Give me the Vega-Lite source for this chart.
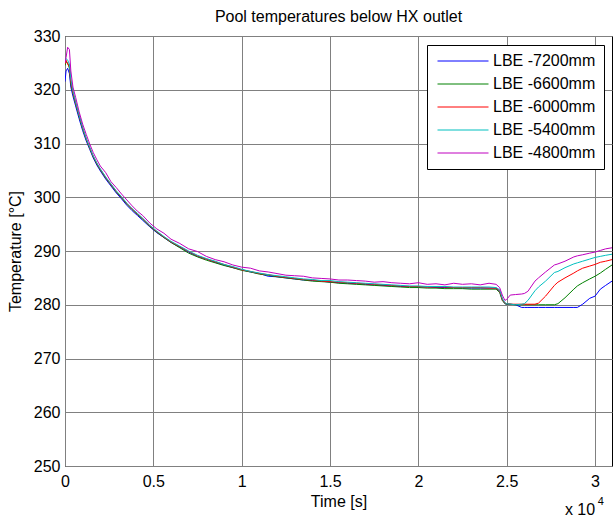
{
  "$schema": "https://vega.github.io/schema/vega-lite/v6.json",
  "width": 547,
  "height": 430,
  "autosize": {"type": "none"},
  "padding": {"left": 65, "top": 36, "right": 3, "bottom": 53},
  "background": "white",
  "title": {"text": "Pool temperatures below HX outlet", "fontSize": 16, "fontWeight": "normal", "font": "Liberation Sans", "color": "black", "offset": 3},
  "config": {
    "view": {"stroke": "black", "strokeWidth": 1},
    "font": "Liberation Sans",
    "axis": {"labelFont": "Liberation Sans", "titleFont": "Liberation Sans", "labelFontSize": 16, "titleFontSize": 16, "titleFontWeight": "normal", "labelColor": "black", "titleColor": "black", "domain": false, "ticks": false, "grid": true, "gridColor": "#808080", "gridOpacity": 1, "gridWidth": 1}
  },
  "layer": [
    {
      "data": {"values": [
        {"t": 0, "s7200": 321.5, "s6600": 324.5, "s6000": 324.8, "s5400": 325.3, "s4800": 325.0},
        {"t": 60, "s7200": 323.5, "s6600": 325.2, "s6000": 325.5, "s5400": 325.8, "s4800": 326.0},
        {"t": 150, "s7200": 324.0, "s6600": 325.0, "s6000": 324.8, "s5400": 325.5, "s4800": 327.9},
        {"t": 250, "s7200": 323.0, "s6600": 324.0, "s6000": 324.3, "s5400": 324.8, "s4800": 327.5},
        {"t": 330, "s7200": 320.5, "s6600": 321.0, "s6000": 321.5, "s5400": 322.0, "s4800": 323.5},
        {"t": 450, "s7200": 318.8, "s6600": 319.3, "s6000": 319.5, "s5400": 319.8, "s4800": 320.5},
        {"t": 600, "s7200": 317.0, "s6600": 317.4, "s6000": 317.6, "s5400": 317.8, "s4800": 318.6},
        {"t": 800, "s7200": 314.6, "s6600": 315.0, "s6000": 315.2, "s5400": 315.3, "s4800": 315.9},
        {"t": 1000, "s7200": 312.4, "s6600": 312.7, "s6000": 312.9, "s5400": 313.0, "s4800": 313.6},
        {"t": 1200, "s7200": 310.5, "s6600": 310.8, "s6000": 310.9, "s5400": 311.0, "s4800": 311.7},
        {"t": 1400, "s7200": 308.9, "s6600": 309.1, "s6000": 309.2, "s5400": 309.3, "s4800": 309.9},
        {"t": 1600, "s7200": 307.3, "s6600": 307.5, "s6000": 307.6, "s5400": 307.7, "s4800": 308.3},
        {"t": 1800, "s7200": 306.0, "s6600": 306.2, "s6000": 306.3, "s5400": 306.4, "s4800": 307.0},
        {"t": 2000, "s7200": 304.9, "s6600": 305.1, "s6000": 305.2, "s5400": 305.3, "s4800": 305.8},
        {"t": 2300, "s7200": 303.4, "s6600": 303.6, "s6000": 303.7, "s5400": 303.8, "s4800": 304.6},
        {"t": 2600, "s7200": 302.1, "s6600": 302.3, "s6000": 302.4, "s5400": 302.5, "s4800": 302.9},
        {"t": 2900, "s7200": 300.8, "s6600": 301.0, "s6000": 301.1, "s5400": 301.2, "s4800": 301.8},
        {"t": 3200, "s7200": 299.7, "s6600": 299.9, "s6000": 300.0, "s5400": 300.1, "s4800": 300.6},
        {"t": 3500, "s7200": 298.5, "s6600": 298.7, "s6000": 298.8, "s5400": 298.9, "s4800": 299.5},
        {"t": 3800, "s7200": 297.5, "s6600": 297.7, "s6000": 297.8, "s5400": 297.9, "s4800": 298.4},
        {"t": 4100, "s7200": 296.6, "s6600": 296.8, "s6000": 296.9, "s5400": 297.0, "s4800": 297.4},
        {"t": 4400, "s7200": 295.7, "s6600": 295.9, "s6000": 296.0, "s5400": 296.1, "s4800": 296.6},
        {"t": 4800, "s7200": 294.5, "s6600": 294.6, "s6000": 294.7, "s5400": 294.8, "s4800": 295.2},
        {"t": 5200, "s7200": 293.4, "s6600": 293.5, "s6000": 293.6, "s5400": 293.7, "s4800": 294.1},
        {"t": 5600, "s7200": 292.5, "s6600": 292.5, "s6000": 292.6, "s5400": 292.7, "s4800": 293.3},
        {"t": 6000, "s7200": 291.6, "s6600": 291.6, "s6000": 291.7, "s5400": 291.8, "s4800": 292.2},
        {"t": 6500, "s7200": 290.7, "s6600": 290.6, "s6000": 290.8, "s5400": 290.9, "s4800": 291.4},
        {"t": 7000, "s7200": 289.8, "s6600": 289.6, "s6000": 289.9, "s5400": 290.0, "s4800": 290.4},
        {"t": 7500, "s7200": 289.0, "s6600": 288.9, "s6000": 289.1, "s5400": 289.2, "s4800": 289.9},
        {"t": 8000, "s7200": 288.5, "s6600": 288.3, "s6000": 288.5, "s5400": 288.6, "s4800": 289.0},
        {"t": 8500, "s7200": 287.9, "s6600": 287.8, "s6000": 288.0, "s5400": 288.1, "s4800": 288.4},
        {"t": 9000, "s7200": 287.4, "s6600": 287.3, "s6000": 287.5, "s5400": 287.5, "s4800": 288.0},
        {"t": 9500, "s7200": 286.9, "s6600": 286.9, "s6000": 287.0, "s5400": 287.1, "s4800": 287.4},
        {"t": 10000, "s7200": 286.5, "s6600": 286.4, "s6000": 286.5, "s5400": 286.6, "s4800": 287.0},
        {"t": 10500, "s7200": 286.1, "s6600": 286.1, "s6000": 286.2, "s5400": 286.2, "s4800": 286.8},
        {"t": 11000, "s7200": 285.8, "s6600": 285.7, "s6000": 285.8, "s5400": 285.9, "s4800": 286.3},
        {"t": 11500, "s7200": 285.3, "s6600": 285.5, "s6000": 285.6, "s5400": 285.6, "s4800": 286.1},
        {"t": 12000, "s7200": 285.2, "s6600": 285.2, "s6000": 285.3, "s5400": 285.4, "s4800": 285.8},
        {"t": 12500, "s7200": 285.0, "s6600": 285.0, "s6000": 285.1, "s5400": 285.2, "s4800": 285.5},
        {"t": 13000, "s7200": 284.8, "s6600": 284.8, "s6000": 284.9, "s5400": 285.0, "s4800": 285.4},
        {"t": 13500, "s7200": 284.6, "s6600": 284.6, "s6000": 284.7, "s5400": 284.8, "s4800": 285.3},
        {"t": 14000, "s7200": 284.5, "s6600": 284.4, "s6000": 284.6, "s5400": 284.7, "s4800": 285.0},
        {"t": 14500, "s7200": 284.4, "s6600": 284.3, "s6000": 284.4, "s5400": 284.5, "s4800": 284.9},
        {"t": 15000, "s7200": 284.2, "s6600": 284.2, "s6000": 284.3, "s5400": 284.5, "s4800": 284.8},
        {"t": 15500, "s7200": 284.1, "s6600": 284.0, "s6000": 284.2, "s5400": 284.3, "s4800": 284.6},
        {"t": 16000, "s7200": 284.0, "s6600": 283.9, "s6000": 284.1, "s5400": 284.2, "s4800": 284.6},
        {"t": 16500, "s7200": 283.9, "s6600": 283.8, "s6000": 284.0, "s5400": 284.1, "s4800": 284.5},
        {"t": 17000, "s7200": 283.8, "s6600": 283.7, "s6000": 283.9, "s5400": 284.0, "s4800": 284.4},
        {"t": 17500, "s7200": 283.7, "s6600": 283.6, "s6000": 283.8, "s5400": 283.9, "s4800": 284.2},
        {"t": 18000, "s7200": 283.6, "s6600": 283.5, "s6000": 283.7, "s5400": 283.8, "s4800": 284.3},
        {"t": 18500, "s7200": 283.5, "s6600": 283.4, "s6000": 283.6, "s5400": 283.7, "s4800": 284.1},
        {"t": 19000, "s7200": 283.4, "s6600": 283.3, "s6000": 283.5, "s5400": 283.6, "s4800": 284.0},
        {"t": 19500, "s7200": 283.4, "s6600": 283.2, "s6000": 283.4, "s5400": 283.5, "s4800": 283.9},
        {"t": 20000, "s7200": 283.3, "s6600": 283.2, "s6000": 283.4, "s5400": 283.5, "s4800": 284.1},
        {"t": 20500, "s7200": 283.3, "s6600": 283.1, "s6000": 283.3, "s5400": 283.4, "s4800": 283.8},
        {"t": 21000, "s7200": 283.2, "s6600": 283.1, "s6000": 283.3, "s5400": 283.4, "s4800": 283.9},
        {"t": 21500, "s7200": 283.2, "s6600": 283.0, "s6000": 283.3, "s5400": 283.4, "s4800": 283.7},
        {"t": 22000, "s7200": 283.2, "s6600": 283.0, "s6000": 283.2, "s5400": 283.3, "s4800": 284.0},
        {"t": 22500, "s7200": 283.1, "s6600": 283.0, "s6000": 283.2, "s5400": 283.3, "s4800": 283.8},
        {"t": 23000, "s7200": 283.1, "s6600": 282.9, "s6000": 283.2, "s5400": 283.3, "s4800": 283.9},
        {"t": 23500, "s7200": 283.1, "s6600": 282.9, "s6000": 283.2, "s5400": 283.3, "s4800": 283.7},
        {"t": 24000, "s7200": 283.1, "s6600": 282.9, "s6000": 283.1, "s5400": 283.3, "s4800": 284.0},
        {"t": 24400, "s7200": 283.1, "s6600": 282.9, "s6000": 283.1, "s5400": 283.2, "s4800": 283.8},
        {"t": 24600, "s7200": 282.5, "s6600": 282.3, "s6000": 282.6, "s5400": 282.8, "s4800": 283.2},
        {"t": 24750, "s7200": 281.0, "s6600": 280.8, "s6000": 281.0, "s5400": 281.2, "s4800": 281.8},
        {"t": 24900, "s7200": 280.2, "s6600": 280.2, "s6000": 280.3, "s5400": 280.4, "s4800": 280.8},
        {"t": 25000, "s7200": 280.1, "s6600": 280.1, "s6000": 280.2, "s5400": 280.2, "s4800": 281.0},
        {"t": 25200, "s7200": 280.1, "s6600": 280.1, "s6000": 280.1, "s5400": 280.1, "s4800": 281.8},
        {"t": 25500, "s7200": 280.0, "s6600": 280.0, "s6000": 280.1, "s5400": 280.0, "s4800": 281.9},
        {"t": 25850, "s7200": 279.5, "s6600": 280.0, "s6000": 280.1, "s5400": 280.1, "s4800": 282.0},
        {"t": 26000, "s7200": 279.5, "s6600": 280.0, "s6000": 280.1, "s5400": 280.2, "s4800": 282.1},
        {"t": 26200, "s7200": 279.5, "s6600": 280.0, "s6000": 280.1, "s5400": 280.8, "s4800": 282.5},
        {"t": 26600, "s7200": 279.5, "s6600": 280.0, "s6000": 280.1, "s5400": 282.6, "s4800": 284.4},
        {"t": 26800, "s7200": 279.5, "s6600": 280.0, "s6000": 280.3, "s5400": 283.3, "s4800": 285.0},
        {"t": 27200, "s7200": 279.5, "s6600": 280.0, "s6000": 281.6, "s5400": 284.4, "s4800": 286.1},
        {"t": 27700, "s7200": 279.5, "s6600": 280.0, "s6000": 283.6, "s5400": 286.0, "s4800": 287.4},
        {"t": 27900, "s7200": 279.5, "s6600": 280.2, "s6000": 284.2, "s5400": 286.2, "s4800": 287.6},
        {"t": 28300, "s7200": 279.5, "s6600": 281.3, "s6000": 285.0, "s5400": 286.9, "s4800": 288.1},
        {"t": 28800, "s7200": 279.5, "s6600": 282.9, "s6000": 285.9, "s5400": 287.6, "s4800": 288.9},
        {"t": 29000, "s7200": 279.5, "s6600": 283.5, "s6000": 286.3, "s5400": 287.8, "s4800": 289.1},
        {"t": 29300, "s7200": 280.1, "s6600": 284.1, "s6000": 286.8, "s5400": 288.1, "s4800": 289.3},
        {"t": 29700, "s7200": 281.2, "s6600": 284.8, "s6000": 287.2, "s5400": 288.5, "s4800": 289.6},
        {"t": 30000, "s7200": 281.6, "s6600": 285.3, "s6000": 287.5, "s5400": 288.8, "s4800": 289.8},
        {"t": 30300, "s7200": 282.9, "s6600": 285.9, "s6000": 287.9, "s5400": 289.0, "s4800": 290.1},
        {"t": 30600, "s7200": 283.6, "s6600": 286.6, "s6000": 288.1, "s5400": 289.2, "s4800": 290.4},
        {"t": 30960, "s7200": 284.4, "s6600": 287.4, "s6000": 288.4, "s5400": 289.4, "s4800": 290.6}
      ]},
      "transform": [{"fold": ["s7200", "s6600", "s6000", "s5400", "s4800"], "as": ["series", "T"]}],
      "mark": {"type": "line", "strokeWidth": 1, "clip": true},
      "encoding": {
        "x": {"field": "t", "type": "quantitative", "scale": {"domain": [0, 30960], "nice": false, "zero": false},
          "axis": {"title": "Time [s]", "values": [0, 5000, 10000, 15000, 20000, 25000, 30000], "labelExpr": "'' + datum.value / 10000", "labelPadding": 7, "titlePadding": 4, "labelFlush": false}},
        "y": {"field": "T", "type": "quantitative", "scale": {"domain": [250, 330], "nice": false, "zero": false},
          "axis": {"title": "Temperature [°C]", "values": [250, 260, 270, 280, 290, 300, 310, 320, 330], "labelPadding": 5, "titlePadding": 10}},
        "color": {"field": "series", "type": "nominal", "sort": ["s7200", "s6600", "s6000", "s5400", "s4800"],
          "scale": {"domain": ["s7200", "s6600", "s6000", "s5400", "s4800"], "range": ["#0000ff", "#008000", "#ff0000", "#00bfbf", "#bf00bf"]},
          "legend": {"title": null, "orient": "none", "legendX": 362, "legendY": 9, "labelExpr": "'LBE -' + slice(datum.label, 1) + 'mm'",
            "symbolType": "stroke", "symbolSize": 2601, "symbolStrokeWidth": 1, "labelFontSize": 16, "labelFont": "Liberation Sans", "labelColor": "black",
            "strokeColor": "black", "fillColor": "white", "padding": 8, "symbolOffset": 2, "labelOffset": 4, "rowPadding": 7, "clipHeight": 16}}
      }
    },
    {
      "data": {"values": [{"t": 29150, "T": 240.9, "txt": "x 10", "size": 16}, {"t": 30330, "T": 242.8, "txt": "4", "size": 11}]},
      "mark": {"type": "text", "clip": false, "align": "center", "baseline": "alphabetic", "font": "Liberation Sans", "color": "black"},
      "encoding": {
        "x": {"field": "t", "type": "quantitative"},
        "y": {"field": "T", "type": "quantitative"},
        "text": {"field": "txt"},
        "size": {"field": "size", "type": "quantitative", "scale": null, "legend": null}
      }
    }
  ]
}
